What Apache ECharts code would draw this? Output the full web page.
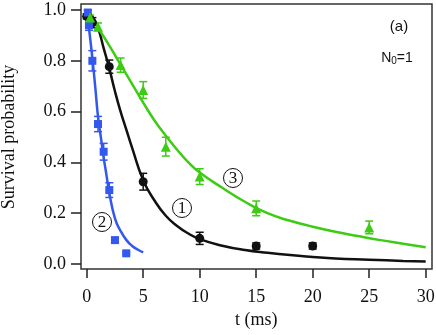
<!DOCTYPE html>
<html>
<head>
<meta charset="utf-8">
<script src="https://cdn.jsdelivr.net/npm/echarts@6/dist/echarts.min.js"></script>
<style>
  html, body { margin: 0; padding: 0; background: #fff; }
  #chart { width: 436px; height: 335px; }
</style>
</head>
<body>
<div id="chart"></div>
<script>
// measured points (t in ms, survival probability, error)
const blackT = [0, 0.5, 2, 5, 10, 15, 20]
const blackP = [0.975, 0.95, 0.777, 0.324, 0.101, 0.071, 0.071]
const blackErr = [0.01, 0.02, 0.026, 0.033, 0.024, 0.012, 0.012]

const blueT = [0.1, 0.2, 0.5, 1.0, 1.5, 2.0, 2.5, 3.5]
const blueP = [0.99, 0.94, 0.80, 0.551, 0.442, 0.291, 0.094, 0.042]
const blueErr = [0.01, 0.02, 0.04, 0.03, 0.033, 0.029, 0.01, 0.005]

const greenT = [0.3, 1, 3, 5, 7, 10, 15, 25]
const greenP = [0.97, 0.934, 0.783, 0.685, 0.462, 0.344, 0.219, 0.144]
const greenErr = [0.01, 0.015, 0.028, 0.033, 0.037, 0.031, 0.029, 0.025]

// fit curves
const fit1T = [0, 0.5, 1, 1.5, 2, 2.5, 3, 3.5, 4, 5, 6, 7, 8, 9, 10, 12, 14, 16, 18, 20, 22, 25, 28, 30]
const fit1P = [0.995, 0.975, 0.93, 0.85, 0.77, 0.68, 0.60, 0.53, 0.46, 0.33, 0.25, 0.19, 0.15, 0.12, 0.098, 0.072, 0.055, 0.044, 0.035, 0.028, 0.022, 0.017, 0.012, 0.010]

const fit2T = [0, 0.25, 0.5, 0.75, 1, 1.25, 1.5, 1.75, 2, 2.5, 3, 3.5, 4, 4.5, 5]
const fit2P = [1.0, 0.91, 0.81, 0.70, 0.58, 0.50, 0.42, 0.35, 0.28, 0.18, 0.13, 0.095, 0.072, 0.057, 0.046]

const fit3T = [0, 1, 2, 3, 4, 5, 6, 7, 8, 9, 10, 12, 14, 16, 18, 20, 22, 24, 26, 28, 30]
const fit3P = [1.0, 0.93, 0.86, 0.785, 0.71, 0.635, 0.565, 0.505, 0.45, 0.40, 0.36, 0.30, 0.245, 0.20, 0.17, 0.147, 0.127, 0.11, 0.094, 0.08, 0.066]

const BLACK = '#111111'
const BLUE = '#3358ee'
const GREEN = '#3ccc14'

const zip = (xs, ys) => xs.map((x, i) => [x, ys[i]])
const bars = (xs, ys, es) => xs.map((x, i) => [x, ys[i] - es[i], ys[i] + es[i]])

const errorBars = (data, color) => ({
  type: 'custom',
  data: data,
  z: 3,
  clip: false,
  renderItem: (params, api) => {
    const x = api.value(0)
    const lo = api.coord([x, api.value(1)])
    const hi = api.coord([x, api.value(2)])
    const w = 4
    const style = { stroke: color, lineWidth: 1.5 }
    return {
      type: 'group',
      children: [
        { type: 'line', shape: { x1: lo[0], y1: lo[1], x2: hi[0], y2: hi[1] }, style },
        { type: 'line', shape: { x1: lo[0] - w, y1: lo[1], x2: lo[0] + w, y2: lo[1] }, style },
        { type: 'line', shape: { x1: hi[0] - w, y1: hi[1], x2: hi[0] + w, y2: hi[1] }, style }
      ]
    }
  }
})

const fitLine = (data, color) => ({
  type: 'line',
  data: data,
  smooth: true,
  showSymbol: false,
  clip: false,
  z: 2,
  lineStyle: { color: color, width: 2.5 }
})

const scatter = (data, color, symbol, size) => ({
  type: 'scatter',
  data: data,
  symbol: symbol,
  symbolSize: size,
  clip: false,
  z: 4,
  itemStyle: { color: color, opacity: 1 }
})

const circled = (x, y, label) => ({
  type: 'group',
  x: x,
  y: y,
  z: 10,
  children: [
    { type: 'circle', shape: { cx: 0, cy: 0, r: 9.5 }, style: { fill: '#fff', stroke: '#111', lineWidth: 1 } },
    { type: 'text', style: { text: label, x: 0, y: 1, align: 'center', verticalAlign: 'middle',
      font: '17px "Liberation Serif"', fill: '#111' } }
  ]
})

const myChart = echarts.init(document.getElementById('chart'))

// grid spans exactly 0..30 ms and 0..1; the frame sits a few pixels outside it
const option = {
  animation: false,
  grid: { left: 86.7, right: 10.3, top: 10, bottom: 71, containLabel: false, outerBoundsMode: 'none' },
  xAxis: {
    type: 'value',
    min: 0,
    max: 30,
    interval: 5,
    offset: 5,
    name: 't (ms)',
    nameLocation: 'middle',
    nameGap: 37,
    nameTextStyle: { fontFamily: 'Liberation Serif', fontSize: 18, color: '#111' },
    axisLine: { show: false, onZero: false },
    splitLine: { show: false },
    axisTick: { show: true, inside: false, length: 9, lineStyle: { color: '#222', width: 1.5 } },
    axisLabel: { margin: 19, fontFamily: 'Liberation Serif', fontSize: 18, color: '#111' }
  },
  yAxis: {
    type: 'value',
    min: 0,
    max: 1,
    interval: 0.2,
    offset: 5.7,
    name: 'Survival probability',
    nameLocation: 'middle',
    nameGap: 63,
    nameTextStyle: { fontFamily: 'Liberation Serif', fontSize: 18, color: '#111' },
    axisLine: { show: false, onZero: false },
    splitLine: { show: false },
    axisTick: { show: true, inside: false, length: 10, lineStyle: { color: '#222', width: 1.5 } },
    axisLabel: {
      margin: 15, fontFamily: 'Liberation Serif', fontSize: 18, color: '#111',
      formatter: (v) => v.toFixed(1)
    }
  },
  graphic: [
    { type: 'rect', z: 0, shape: { x: 81, y: 4, width: 351, height: 265 },
      style: { fill: 'none', stroke: '#333', lineWidth: 1.5 } },
    { type: 'text', x: 399, y: 27, style: { text: '(a)', align: 'center', verticalAlign: 'middle',
      font: '15px "Liberation Sans"', fill: '#111' } },
    { type: 'text', x: 397, y: 58, style: {
      text: '{n|N}{s|0}{n|=1}', align: 'center', verticalAlign: 'middle',
      rich: {
        n: { fontFamily: 'Liberation Sans', fontSize: 14, fill: '#111' },
        s: { fontFamily: 'Liberation Sans', fontSize: 10, fill: '#111', verticalAlign: 'bottom', padding: [6, 0, 0, 0] }
      }
    } },
    circled(182, 208, '1'),
    circled(102, 222, '2'),
    circled(233, 178, '3')
  ],
  series: [
    fitLine(zip(fit1T, fit1P), BLACK),
    fitLine(zip(fit2T, fit2P), BLUE),
    fitLine(zip(fit3T, fit3P), GREEN),
    errorBars(bars(blackT, blackP, blackErr), BLACK),
    errorBars(bars(blueT, blueP, blueErr), BLUE),
    errorBars(bars(greenT, greenP, greenErr), GREEN),
    scatter(zip(blackT, blackP), BLACK, 'circle', 9),
    scatter(zip(blueT, blueP), BLUE, 'rect', 8),
    scatter(zip(greenT, greenP), GREEN, 'triangle', 10)
  ]
}

myChart.setOption(option)
</script>
</body>
</html>
